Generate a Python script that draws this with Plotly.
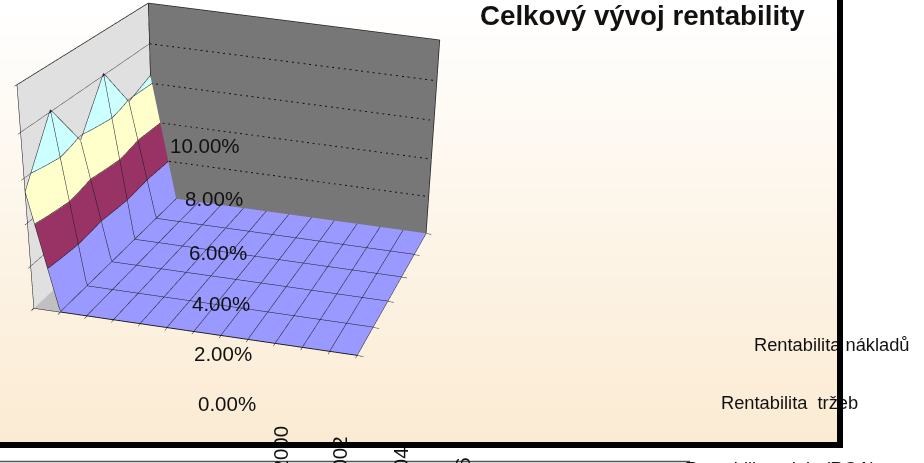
import numpy as np
import plotly.graph_objects as go

# categories along the floor
columns = list(range(13))
rows = list(range(6))
# surface values (%), one list per row, one value per column
row_0 = [5.4,0,0,0,0,0,0,0,0,0,0,0,0]
row_1 = [8.1,0,0,0,0,0,0,0,0,0,0,0,0]
row_2 = [5.8,0,0,0,0,0,0,0,0,0,0,0,0]
row_3 = [8.1,0,0,0,0,0,0,0,0,0,0,0,0]
row_4 = [5.9,0,0,0,0,0,0,0,0,0,0,0,0]
row_5 = [6.4,0,0,0,0,0,0,0,0,0,0,0,0]
z_ticks = [0,2,4,6,8,10]
z_labels = ['0.00%','2.00%','4.00%','6.00%','8.00%','10.00%']
year_labels = ['2000','2002','2004','2006']
title = 'Celkový vývoj rentability'
series_labels = ['Rentabilita nákladů','Rentabilita\u00a0 tržeb','Rentabilita\u00a0 aktiv (ROA)']

# The figure is taller than the window so that the 45 degree lens of the 3D
# scene gives the mild perspective of the reference; the window shows its top.
W, H = 924, 1300
eye = dict(x=2.083, y=-7.291, z=2.409)
center = dict(x=1.390, y=-1.085, z=-1.825)
up = dict(x=-0.083, y=0, z=1)
aspect = dict(x=1.518, y=1.684, z=1.0)

bands = [[0,'#9999FF'],[.2,'#9999FF'],[.2,'#993366'],[.4,'#993366'],[.4,'#FFFFCC'],[.6,'#FFFFCC'],
         [.6,'#CCFFFF'],[.8,'#CCFFFF'],[.8,'#660066'],[1,'#660066']]
z = [row_0,row_1,row_2,row_3,row_4,row_5]
xmax, ymax, zmax = columns[-1], rows[-1], z_ticks[-1]

fig = go.Figure()
grad_y = np.linspace(0,445,91)
fig.add_trace(go.Heatmap(x=[0,840], y=grad_y, z=[[i/89] for i in range(90)],
    colorscale=[[0,'#FFFFFF'],[1,'#FBEBD3']], zmin=0, zmax=1, showscale=False, hoverinfo='skip'))
fig.add_trace(go.Surface(x=columns, y=rows, z=z, colorscale=bands, cmin=0, cmax=zmax, showscale=False,
    lighting=dict(ambient=1,diffuse=0,specular=0,fresnel=0,roughness=1),
    contours=dict(x=dict(show=True,start=0,end=xmax,size=1,color='#1a1a1a',width=1),
                  y=dict(show=True,start=0,end=ymax,size=1,color='#1a1a1a',width=1),
                  z=dict(show=True,start=2,end=8,size=2,color='#1a1a1a',width=1))))
gx,gy,gz = [],[],[]
for t in z_ticks[1:-1]:
    gx += [0,xmax,None]; gy += [ymax,ymax,None]; gz += [t,t,None]
fig.add_trace(go.Scatter3d(x=gx,y=gy,z=gz,mode='lines',line=dict(color='#111',width=2,dash='dot'),hoverinfo='skip'))
gx,gy,gz = [],[],[]
for t in z_ticks[1:-1]:
    gx += [0,0,None]; gy += [0,ymax,None]; gz += [t,t,None]
fig.add_trace(go.Scatter3d(x=gx,y=gy,z=gz,mode='lines',line=dict(color='#444',width=1),hoverinfo='skip'))
ex = [0,0,xmax,None,0,0,None,xmax,xmax]
ey = [0,ymax,ymax,None,ymax,ymax,None,ymax,ymax]
ez = [zmax,zmax,zmax,None,0,zmax,None,0,zmax]
fig.add_trace(go.Scatter3d(x=ex,y=ey,z=ez,mode='lines',line=dict(color='#222',width=1.5),hoverinfo='skip'))

ax = dict(showticklabels=False,title='',showgrid=False,showbackground=True,ticks='outside',ticklen=5,
          tickcolor='#111',showline=True,linecolor='#111',zeroline=False)
fig.update_layout(width=W,height=H,margin=dict(l=0,r=0,t=0,b=0),paper_bgcolor='white',plot_bgcolor='rgba(0,0,0,0)',showlegend=False,
    xaxis=dict(range=[0,W],visible=False,fixedrange=True,domain=[0,1]),
    yaxis=dict(range=[H,0],visible=False,fixedrange=True,domain=[0,1]),
    scene=dict(domain=dict(x=[0,1],y=[0,1]),bgcolor='rgba(0,0,0,0)',aspectmode='manual',aspectratio=aspect,dragmode='orbit',
        camera=dict(eye=eye,center=center,up=up),
        xaxis=dict(ax,range=[0,xmax],backgroundcolor='#E0E0E0',dtick=1),
        yaxis=dict(ax,range=[0,ymax],backgroundcolor='#777777',dtick=1),
        zaxis=dict(ax,range=[-.02,zmax],backgroundcolor='#C0C0C0',dtick=2)))

def txt(s,x,y,size=20.5,xa='center',ya='middle',bold=False,angle=0):
    fig.add_annotation(text=('<b>%s</b>'%s) if bold else s,xref='x',yref='y',x=x,y=y,showarrow=False,xanchor=xa,yanchor=ya,
        textangle=angle,font=dict(family='Liberation Sans',size=size,color='#111'),borderpad=0,borderwidth=0)
def bar(x,y,w,h):
    fig.add_annotation(text='&nbsp;',xref='x',yref='y',x=x,y=y,xanchor='left',yanchor='top',width=w,height=h,
        bgcolor='black',showarrow=False,borderpad=0,borderwidth=0,font=dict(size=1))

fig.add_shape(type='line',xref='x',yref='y',x0=0,x1=690,y0=461.5,y1=461.5,line=dict(color='#555',width=1.5))
txt(title,480,15,27.7,'left',bold=True)
for lab,xr,yc in zip(z_labels,[256,252,250,247,243,240],[403,353,303,252,198,145]):
    txt(lab,xr,yc,20.5,'right')
txt(series_labels[0],754,344,18.3,'left')
txt(series_labels[1],721,402,18.3,'left')
txt(series_labels[2],685,457.5,18.3,'left','top')
for lab,xc,yt in zip(year_labels,[279.5,339,400,462],[426,436,447,457]):
    txt(lab,xc,yt,20.5,'center','top',angle=-90)
bar(837,0,6,448)
bar(0,442,843,6)

js = "document.documentElement.style.overflow='hidden';document.body.style.overflow='hidden';document.body.style.margin='0';"
fig.write_html("out.html",post_script=js,config=dict(displayModeBar=False))
